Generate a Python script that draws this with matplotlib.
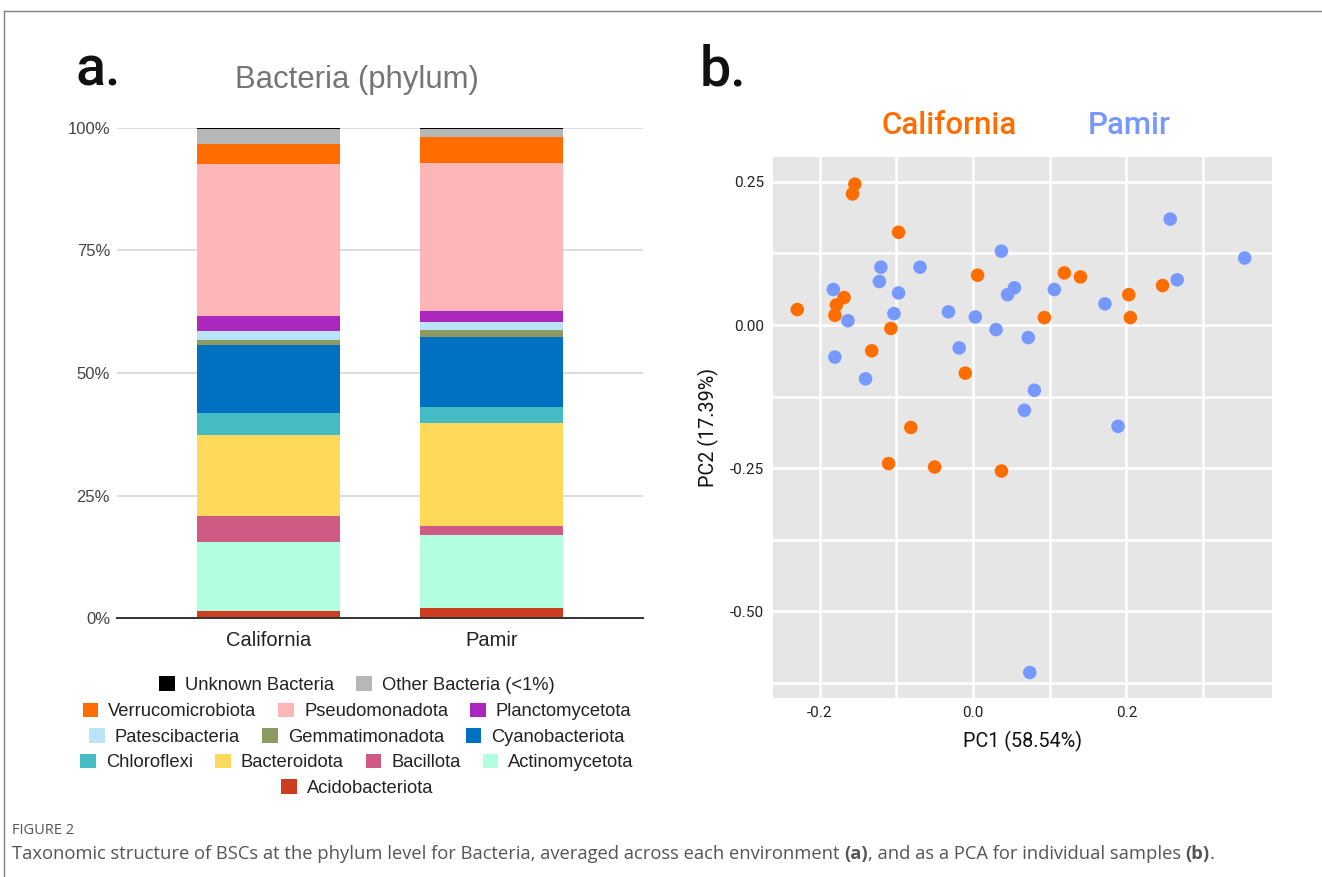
import numpy as np
import matplotlib
matplotlib.use('Agg')
import matplotlib.pyplot as plt
from matplotlib.lines import Line2D
from matplotlib.patches import Patch

# 1. 데이터
sites = ['California', 'Pamir']
phyla = ['Acidobacteriota', 'Actinomycetota', 'Bacillota', 'Bacteroidota', 'Chloroflexi',
         'Cyanobacteriota', 'Gemmatimonadota', 'Patescibacteria', 'Planctomycetota',
         'Pseudomonadota', 'Verrucomicrobiota', 'Other Bacteria (<1%)', 'Unknown Bacteria']
california = [1.5, 14.1, 5.3, 16.5, 4.5, 13.9, 0.9, 1.8, 3.1, 31.1, 3.9, 3.1, 0.3]
pamir = [2.2, 14.7, 1.85, 21.05, 3.2, 14.4, 1.4, 1.5, 2.4, 30.2, 5.3, 1.5, 0.3]
phylum_colors = ['#cc3d22', '#b2ffe0', '#cf5b84', '#ffda5a', '#45bbc4', '#0070c0', '#8d9a62',
                 '#b9e3f7', '#ab27bd', '#ffb6b8', '#ff6d00', '#b7b7b7', '#000000']
legend_rows = [
    ['Unknown Bacteria', 'Other Bacteria (<1%)'],
    ['Verrucomicrobiota', 'Pseudomonadota', 'Planctomycetota'],
    ['Patescibacteria', 'Gemmatimonadota', 'Cyanobacteriota'],
    ['Chloroflexi', 'Bacteroidota', 'Bacillota', 'Actinomycetota'],
    ['Acidobacteriota'],
]
pct_ticks = [0, 25, 50, 75, 100]
pct_labels = ['0%', '25%', '50%', '75%', '100%']

cal_pc1 = [-0.154, -0.157, -0.097, -0.229, -0.168, -0.178, -0.180, -0.107, -0.132, 0.006, -0.010,
           0.093, 0.119, 0.140, 0.203, 0.205, 0.247, -0.081, -0.110, -0.050, 0.037]
cal_pc2 = [0.246, 0.229, 0.162, 0.027, 0.048, 0.035, 0.017, -0.006, -0.045, 0.087, -0.084,
           0.013, 0.091, 0.084, 0.053, 0.013, 0.069, -0.179, -0.242, -0.248, -0.255]
pam_pc1 = [-0.182, -0.163, -0.180, -0.140, -0.120, -0.122, -0.097, -0.103, -0.069, -0.032, -0.018,
           0.003, 0.030, 0.037, 0.054, 0.045, 0.072, 0.080, 0.067, 0.106, 0.172, 0.257, 0.266,
           0.354, 0.189, 0.074]
pam_pc2 = [0.062, 0.0075, -0.056, -0.094, 0.101, 0.076, 0.056, 0.020, 0.101, 0.023, -0.040,
           0.014, -0.008, 0.129, 0.065, 0.053, -0.022, -0.114, -0.149, 0.062, 0.037, 0.185, 0.079,
           0.117, -0.177, -0.607]
pc_xticks = [-0.2, 0.0, 0.2]
pc_yticks = [-0.50, -0.25, 0.00, 0.25]

ORANGE = '#ff6d00'
BLUE = '#7799ff'
W, H = 1322, 877

fig = plt.figure(figsize=(W / 100, H / 100), dpi=100)

def fx(px):
    return px / W

def fy(py):
    return 1 - py / H

# 테두리 선
fig.add_artist(Line2D([fx(4), 1], [fy(11), fy(11)], color='#808080', lw=1))
fig.add_artist(Line2D([fx(4), fx(4)], [fy(11), 0], color='#808080', lw=1))

# 2. (a) 누적 막대그래프
ax = fig.add_axes([fx(117), fy(618.3), fx(643) - fx(117), fy(127.7) - fy(618.3)])
x = np.arange(len(sites))
bottom = np.zeros(len(sites))
handles = {}
for i, name in enumerate(phyla):
    vals = np.array([california[i], pamir[i]])
    ax.bar(x, vals, bottom=bottom, width=0.643, color=phylum_colors[i],
           edgecolor='none', zorder=3)
    handles[name] = Patch(facecolor=phylum_colors[i], edgecolor='none')
    bottom += vals

ax.set_xlim(-0.679, 1.679)
ax.set_ylim(0, 100)
for s in ax.spines.values():
    s.set_visible(False)
for t in pct_ticks[1:]:
    ax.axhline(t, color='#d9d9d9', lw=1.3, zorder=1)
ax.axhline(0, color='#333333', lw=1.4, zorder=4, clip_on=False)
ax.set_yticks(pct_ticks)
ax.set_yticklabels(pct_labels, family='Liberation Sans', fontsize=12, color='#444444')
ax.set_xticks(x)
ax.set_xticklabels(sites, family='Liberation Sans', fontsize=14.5, color='#222222')
ax.tick_params(axis='y', length=0, pad=5)
ax.tick_params(axis='x', length=0, pad=9)

fig.text(fx(357), fy(80), 'Bacteria (phylum)', ha='center', va='center',
         family='Liberation Sans', fontsize=22.4, color='#757575')
fig.text(fx(75), fy(85), 'a.', ha='left', va='baseline', family='Roboto',
         fontsize=40, fontweight='medium', color='#111111')
fig.text(fx(700), fy(85), 'b.', ha='left', va='baseline', family='Roboto',
         fontsize=40, fontweight='medium', color='#111111')

# 범례: 행마다 가운데 정렬
row_y = [685, 711.5, 737, 762.5, 788]
for names, yy in zip(legend_rows, row_y):
    leg = fig.legend([handles[n] for n in names], names, loc='center',
                     bbox_to_anchor=(fx(357), fy(yy)), ncol=len(names), frameon=False,
                     prop={'family': 'Liberation Sans', 'size': 13.2},
                     handlelength=0.85, handleheight=0.85, handletextpad=0.55,
                     columnspacing=1.2, borderpad=0, borderaxespad=0)
    for t in leg.get_texts():
        t.set_color('#222222')

# 3. (b) PCA 산점도
bx = fig.add_axes([fx(772.7), fy(697.7), fx(1272.3) - fx(772.7), fy(156.7) - fy(697.7)])
bx.set_facecolor('#e6e6e6')
bx.scatter(cal_pc1, cal_pc2, s=95, color=ORANGE, edgecolor='none', zorder=3)
bx.scatter(pam_pc1, pam_pc2, s=95, color=BLUE, edgecolor='none', zorder=3)
bx.set_xlim(-0.261, 0.39)
bx.set_ylim(-0.651, 0.294)
bx.set_xticks(pc_xticks)
bx.set_xticklabels(['-0.2', '0.0', '0.2'])
bx.set_yticks(pc_yticks)
bx.set_yticklabels(['-0.50', '-0.25', '0.00', '0.25'])
bx.set_xticks([-0.1, 0.1, 0.3], minor=True)
bx.set_yticks([-0.625, -0.375, -0.125, 0.125], minor=True)
bx.grid(True, which='both', color='white', lw=1.8, zorder=1)
bx.set_axisbelow(True)
for s in bx.spines.values():
    s.set_visible(False)
bx.tick_params(which='both', length=0, pad=6, labelsize=11, labelcolor='#222222')
for t in bx.get_xticklabels() + bx.get_yticklabels():
    t.set_family('Roboto')
bx.set_xlabel('PC1 (58.54%)', family='Roboto', fontsize=14.2, color='#111111', labelpad=8)
bx.set_ylabel('PC2 (17.39%)', family='Roboto', fontsize=14.2, color='#111111', labelpad=8)

fig.text(fx(949.5), fy(125), 'California', ha='center', va='center', family='Roboto',
         fontsize=22.5, fontweight='medium', color=ORANGE)
fig.text(fx(1129), fy(125), 'Pamir', ha='center', va='center', family='Roboto',
         fontsize=22.5, fontweight='medium', color=BLUE)

# 4. 캡션
fig.text(fx(12), fy(830), 'FIGURE 2', ha='left', va='center', family='Open Sans',
         fontsize=10.5, color='#555555')
pieces = [('Taxonomic structure of BSCs at the phylum level for Bacteria, averaged across each environment ', 'normal'),
          ('(a)', 'bold'), (', and as a PCA for individual samples ', 'normal'), ('(b)', 'bold'), ('.', 'normal')]
fig.canvas.draw()
renderer = fig.canvas.get_renderer()
xpos = 12
for txt, wt in pieces:
    t = fig.text(fx(xpos), fy(854), txt, ha='left', va='center', family='Open Sans',
                 fontsize=13.2, fontweight=wt, color='#555555')
    bb = t.get_window_extent(renderer)
    xpos += bb.width

fig.savefig('out.png', dpi=100)
